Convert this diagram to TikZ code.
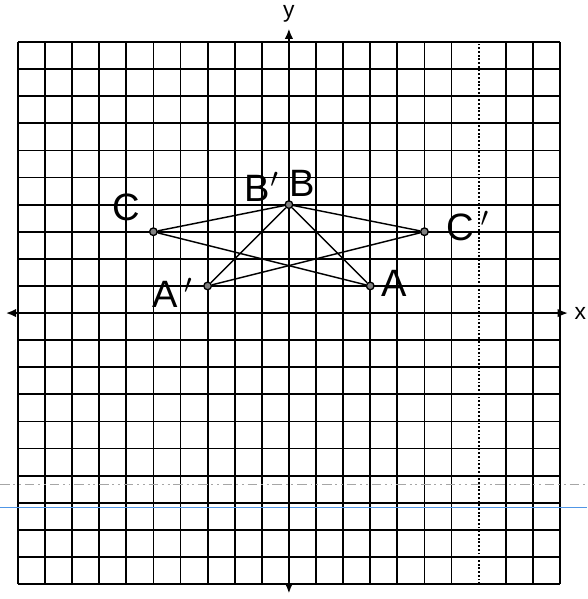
\documentclass[tikz,border=0pt]{standalone}
\usepackage{fontspec}
\setmainfont{Liberation Sans}
\usetikzlibrary{arrows.meta}
\definecolor{scanblue}{RGB}{80,150,230}

\begin{document}
\begin{tikzpicture}[
    x=0.5cm, y=0.5cm,
    gridline/.style={line width=0.95pt},
    axis/.style={{Latex[length=5.5pt,width=4.5pt]}-{Latex[length=5.5pt,width=4.5pt]}, line width=1.1pt},
    pt/.style={circle, draw, fill=gray, line width=0.7pt, inner sep=0pt, minimum size=4pt},
    seg/.style={line width=0.75pt},
    hand/.style={font=\fontsize{20}{22}\selectfont},
    scanline/.style={gray!70, line width=0.6pt, dash pattern=on 5pt off 2pt on 1pt off 2pt on 1pt off 2pt}
]
\useasboundingbox (-10.66,-10.55) rectangle (11.0,11.55);

% grid
\foreach \k in {-10,...,10}
    \draw[gridline] (-10,\k) -- (10,\k);
\foreach \k in {-10,-9,...,6,8,9,10}
    \draw[gridline] (\k,-10) -- (\k,10);
\draw[gridline, densely dotted] (7,-10) -- (7,10);

% marks left by the scan
\draw[scanline] (-10.66,-6.31) -- (11,-6.31);
\draw[scanblue, line width=0.8pt] (-10.66,-7.18) -- (11,-7.18);

% axes
\coordinate (xl) at (-10.45,0);
\coordinate (xr) at (10.3,0);
\coordinate (yb) at (0,-10.35);
\coordinate (yt) at (0,10.5);
\draw[axis] (xl) -- (xr);
\draw[axis] (yb) -- (yt);
\node[font=\large] (xlab) at (10.75,0) {x};
\node[font=\large] (ylab) at (0,11.05) {y};

% vertices
\node[pt] (C) at (-5,3) {};
\node[pt] (B) at (0,4) {};
\node[pt] (Cp) at (5,3) {};
\node[pt] (Ap) at (-3,1) {};
\node[pt] (A) at (3,1) {};

\draw[seg] (C) -- (B);
\draw[seg] (B) -- (A);
\draw[seg] (C) -- (A);
\draw[seg] (Ap) -- (B);
\draw[seg] (B) -- (Cp);
\draw[seg] (Ap) -- (Cp);

% labels
\node[hand] (lC) at (-6.0,3.9) {C};
\node[hand] (lBp) at (-1.0,4.65) {B$'$};
\node[hand] (lB) at (0.5,4.8) {B};
\node[hand] (lCp) at (6.6,3.2) {C\,$'$};
\node[hand] (lAp) at (-4.3,0.75) {A\,$'$};
\node[hand] (lA) at (3.9,1.1) {A};
\end{tikzpicture}
\end{document}
